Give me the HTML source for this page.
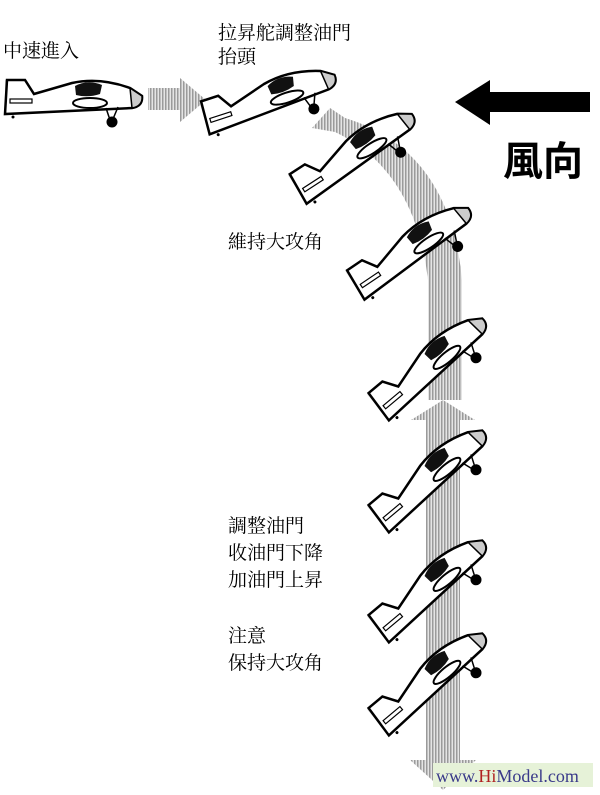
<!DOCTYPE html>
<html><head><meta charset="utf-8"><style>
body{margin:0;background:#fff;width:600px;height:795px;overflow:hidden}
svg{display:block}
.t{font-family:"Liberation Serif","Noto Serif CJK SC","Noto Sans CJK TC",serif;font-size:19px;fill:#000}
</style></head><body>
<svg width="600" height="795" viewBox="0 0 600 795" xmlns="http://www.w3.org/2000/svg">
<defs>
<pattern id="h" width="3" height="3" patternUnits="userSpaceOnUse">
<rect width="3" height="3" fill="#e4e4e4"/><rect width="1.5" height="3" fill="#9a9a9a"/>
</pattern>
<g id="p">
<g transform="translate(-73,-100)">
<path d="M5,80 L25,80 L34,94 L5,104Z" fill="#ddd"/>
<path d="M5,114 L7,80 L25,80 L34,94 L72,83 Q100,77 130,88 L142,96 Q143,106 132,108 L5,114Z" fill="#fff" stroke="#000" stroke-width="2.5"/>
<path d="M130,88 L142,96 Q143,106 132,108Z" fill="#ccc" stroke="#000" stroke-width="1.5"/>
<path d="M75,86 Q88,79 102,85 L100,94 Q88,98 76,95Z" fill="#111"/>
<ellipse cx="90" cy="103" rx="17" ry="5" fill="#fff" stroke="#000" stroke-width="2"/>
<rect x="10" y="99" width="22" height="4" fill="#fff" stroke="#000" stroke-width="1.2"/>
<path d="M106,108 L110,120 M118,107 L113,119" stroke="#000" stroke-width="1.5"/>
<circle cx="112" cy="122" r="5.5" fill="#000"/>
<circle cx="13" cy="117" r="1.5" fill="#000"/>
</g>
</g>
</defs>
<path d="M148,88 H180 V78 L206,100 L180,122 V110 H148Z" fill="url(#h)"/>
<path d="M330,108 L312,128 L335,132 Q415,170 428,280 V400 L462,400 V280 Q450,150 345,118Z" fill="url(#h)"/>
<path d="M443,400 L475,420 L460,420 V760 L476,760 L443,790 L410,760 L426,760 V420 L411,420Z" fill="url(#h)"/>
<use href="#p" transform="translate(73,100)"/>
<use href="#p" transform="translate(270,100) rotate(-18)"/>
<use href="#p" transform="translate(356,155) rotate(-33)"/>
<use href="#p" transform="translate(413,250) rotate(-34)"/>
<use href="#p" transform="translate(432,366) rotate(-40)"/>
<use href="#p" transform="translate(432,478) rotate(-40)"/>
<use href="#p" transform="translate(432,588) rotate(-40)"/>
<use href="#p" transform="translate(432,681) rotate(-40)"/>
<path d="M455,102 L490,80 V92 H590 V112 H490 V125Z" fill="#000"/>
<text x="503" y="175" style="font-family:'Noto Sans CJK TC','Noto Sans CJK SC',sans-serif;font-size:40px;font-weight:bold">風向</text>
<text class="t" x="3" y="57">中速進入</text>
<text class="t" x="218" y="39">拉昇舵調整油門</text>
<text class="t" x="218" y="63">抬頭</text>
<text class="t" x="228" y="248">維持大攻角</text>
<text class="t" x="228" y="532">調整油門</text>
<text class="t" x="228" y="559">收油門下降</text>
<text class="t" x="228" y="586">加油門上昇</text>
<text class="t" x="228" y="642">注意</text>
<text class="t" x="228" y="669">保持大攻角</text>
<rect x="433" y="763" width="160" height="24" fill="#e6f2d8"/>
<text x="436" y="782" style="font-family:'Liberation Serif',serif;font-size:18px;fill:#3a3a8a">www.<tspan fill="#b02020">Hi</tspan>Model.com</text>
</svg>
</body></html>
